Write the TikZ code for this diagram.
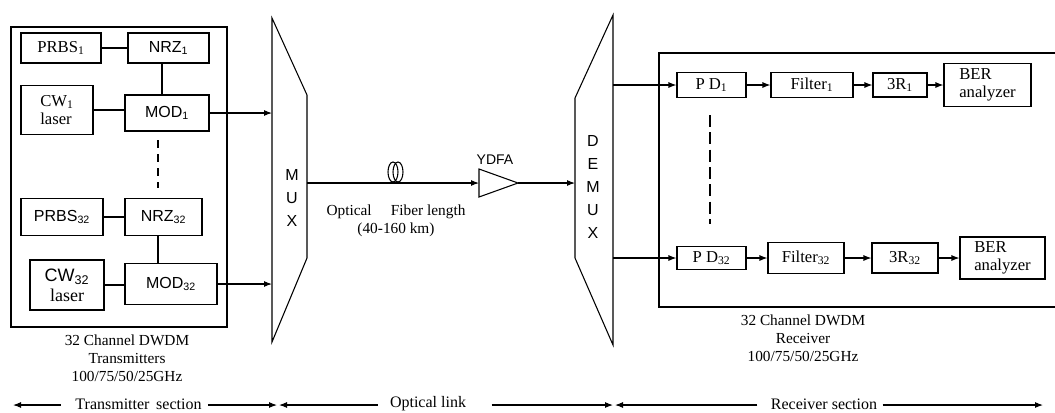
\documentclass[tikz,border=0pt]{standalone}
\usepackage{fontspec}
\setmainfont{Liberation Serif}
\newfontfamily\arialfont{Liberation Sans}
\usetikzlibrary{arrows.meta}

\tikzset{
  blk/.style={draw,line width=0.8pt,inner sep=1pt,font=\fontsize{12.5}{13.5}\selectfont},
  sblk/.style={blk,font=\arialfont\fontsize{12}{13}\selectfont},
  sz/.style 2 args={minimum width=#1*0.75pt,minimum height=#2*0.75pt},
  wire/.style={line width=0.8pt},
  sig/.style={line width=0.8pt,->},
  lbl/.style={align=center,font=\fontsize{11.5}{13.5}\selectfont},
  sec/.style={inner sep=0pt,font=\fontsize{12}{14}\selectfont},
}

\begin{document}
\begin{tikzpicture}[x=0.75pt,y=-0.75pt,>={Latex[length=6pt,width=4.5pt]}]
\useasboundingbox (0,0) rectangle (1055,412);

% transmitter
\node[draw,line width=0.8pt,sz={216}{300}] (txbox) at (119,177) {};
\node[blk,sz={80}{30}] (prbsA) at (61,48) {PRBS\textsubscript{1}};
\node[sblk,sz={81}{30}] (nrzA) at (168.5,48) {NRZ\textsubscript{1}};
\node[blk,sz={72}{49},align=left] (cwA) at (57,110) {CW\textsubscript{1}\\laser};
\node[sblk,sz={84}{36}] (modA) at (167,113) {MOD\textsubscript{1}};
\draw[wire] (prbsA) -- (nrzA);
\draw[wire] (nrzA.south -| 162,0) -- (modA.north -| 162,0);
\draw[wire] (cwA) -- (cwA -| modA.west);
\draw[wire,dash pattern=on 6pt off 4.5pt] (158,140) -- (158,188);
\node[sblk,sz={82}{37}] (prbsB) at (62,217) {PRBS\textsubscript{32}};
\node[sblk,sz={77}{37}] (nrzB) at (163.5,217) {NRZ\textsubscript{32}};
\node[blk,sz={74}{50},align=center,font=\fontsize{13.5}{15}\selectfont] (cwB) at (67,285) {{\arialfont CW\textsubscript{32}}\\laser};
\node[sblk,sz={92}{41}] (modB) at (171,284) {MOD\textsubscript{32}};
\draw[wire] (prbsB) -- (nrzB);
\draw[wire] (nrzB.south -| 158,0) -- (modB.north -| 158,0);
\draw[wire] (cwB) -- (cwB -| modB.west);
\node[lbl] (txlbl) at (127,358) {32 Channel DWDM\\Transmitters\\100/75/50/25GHz};

% mux and demux
\draw[wire] (272,18) -- (307,95) -- (307,258) -- (272,342) -- cycle;
\coordinate (muxin) at (272,113);
\coordinate (muxout) at (307,183);
\node[align=center,font=\arialfont\fontsize{12}{17.6}\selectfont] (muxlbl) at (292,198) {M\\U\\X};
\draw[sig] (modA) -- (modA -| muxin);
\draw[sig] (modB) -- (modB -| muxin);
\draw[wire] (575,98) -- (613,15) -- (613,345) -- (575,258) -- cycle;
\coordinate (demuxin) at (575,183);
\coordinate (demuxA) at (613,85);
\coordinate (demuxB) at (613,258);
\node[align=center,font=\arialfont\fontsize{12}{17.4}\selectfont] (demuxlbl) at (593,187) {D\\E\\M\\U\\X};

% optical link
\draw[wire] (393,172) ellipse [x radius=5,y radius=10];
\draw[wire] (398,172) ellipse [x radius=5,y radius=10];
\coordinate (ampin) at (479,183);
\coordinate (ampout) at (518,183);
\draw[wire] (479,169) -- (ampout) -- (479,197) -- cycle;
\node[font=\arialfont\fontsize{10.5}{12}\selectfont] (ydfa) at (495,160) {YDFA};
\draw[sig] (muxout) -- (ampin);
\draw[sig] (ampout) -- (demuxin);
\node[lbl] (fiberlbl) at (396,221) {Optical \quad Fiber length\\(40-160 km)};

% receiver
\draw[wire] (1056,53) -- (659,53) -- (659,307) -- (1056,307);
\node[blk,sz={69}{25}] (pdA) at (711.5,85) {P D\textsubscript{1}};
\node[blk,sz={82}{25}] (filA) at (812,85) {Filter\textsubscript{1}};
\node[blk,sz={54}{24}] (rrA) at (900,85) {3R\textsubscript{1}};
\node[blk,sz={87}{43},align=left] (berA) at (987.5,85) {BER\\analyzer};
\node[blk,sz={69}{23}] (pdB) at (711.5,258) {P D\textsubscript{32}};
\node[blk,sz={76}{31}] (filB) at (806,258) {Filter\textsubscript{32}};
\node[blk,sz={66}{30}] (rrB) at (905,258) {3R\textsubscript{32}};
\node[blk,sz={85}{42},align=left] (berB) at (1002.5,258) {BER\\analyzer};
\draw[sig] (demuxA) -- (pdA);
\draw[sig] (pdA) -- (filA);
\draw[sig] (filA) -- (rrA);
\draw[sig] (rrA) -- (berA);
\draw[sig] (demuxB) -- (pdB);
\draw[sig] (pdB) -- (filB);
\draw[sig] (filB) -- (rrB);
\draw[sig] (rrB) -- (berB);
\draw[wire,dash pattern=on 9pt off 4pt] (710,115) -- (710,224);
\node[lbl] (rxlbl) at (803,338) {32 Channel DWDM\\Receiver\\100/75/50/25GHz};

% sections
\coordinate (secA) at (13,405);
\coordinate (secB) at (277,405);
\coordinate (secC) at (279,405);
\coordinate (secD) at (613,405);
\coordinate (secE) at (615,405);
\coordinate (secF) at (1043,405);
\node[sec] (txsec) at (138.5,404) {Transmitter\, section};
\node[sec] (linksec) at (428,404) {Optical link};
\node[sec] (rxsec) at (824,404) {Receiver section};
\draw[sig] ([xshift=-11pt]txsec.west |- secA) -- (secA);
\draw[sig] ([xshift=4.5pt]txsec.east |- secB) -- (secB);
\draw[sig] ([xshift=-9pt]linksec.west |- secC) -- (secC);
\draw[sig] ([xshift=19pt]linksec.east |- secD) -- (secD);
\draw[sig] ([xshift=-10pt]rxsec.west |- secE) -- (secE);
\draw[sig] ([xshift=4pt]rxsec.east |- secF) -- (secF);
\end{tikzpicture}
\end{document}
